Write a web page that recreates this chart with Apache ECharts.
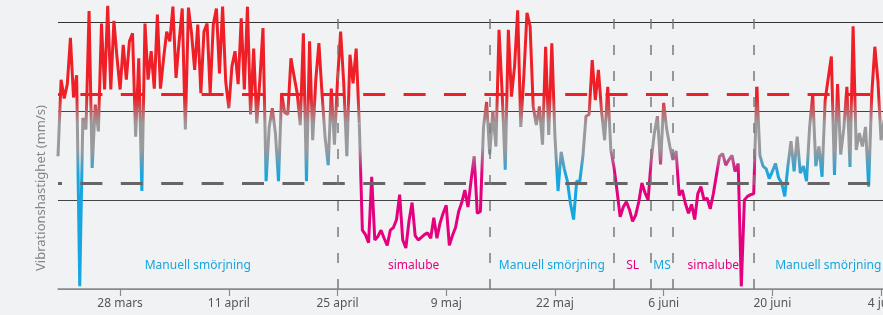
<!DOCTYPE html>
<html>
<head>
<meta charset="utf-8">
<title>Vibrationshastighet</title>
<script src="https://cdn.jsdelivr.net/npm/echarts@6/dist/echarts.min.js"></script>
<style>
html, body { margin: 0; padding: 0; background: #f1f2f4; }
#main { width: 883px; height: 315px; }
</style>
</head>
<body>
<div id="main"></div>
<script>
// x axis: one sample every 0.4 day starting 20 mars, date labels every 14 days
var tickLabels = ['28 mars', '11 april', '25 april', '9 maj', '22 maj', '6 juni', '20 juni', '4 juli'];
var firstTick = 20, tickStep = 35, axisSamples = 273;

// vibration readings (mm/s, relative scale)
var vib = [
  1.49, 2.35, 2.14, 2.3, 2.82, 2.15, 2.4, 0.03, 1.92, 1.79,
  3.12, 1.36, 2.07, 1.77, 2.98, 2.24, 3.18, 2.24, 3.01, 2.6,
  2.24, 2.74, 2.35, 2.78, 2.87, 1.71, 2.59, 1.10, 2.98, 2.35,
  2.67, 2.25, 3.08, 2.25, 2.59, 2.89, 2.78, 3.17, 2.37, 2.78,
  3.15, 1.79, 3.16, 2.87, 2.46, 2.97, 2.2, 2.89, 2.98, 2.2,
  2.97, 3.15, 2.42, 3.17, 2.33, 2.03, 2.5, 2.67, 2.3, 3.04,
  2.24, 3.17, 1.96, 2.7, 1.86, 2.35, 2.93, 1.21, 1.82, 2.03,
  1.75, 1.21, 2.2, 1.98, 1.96, 2.59, 2.39, 2.2, 1.84, 2.87,
  1.21, 2.78, 1.67, 2.35, 2.76, 2.2, 1.7, 1.39, 2.25, 1.62,
  2.35, 2.89, 2.31, 1.49, 2.63, 2.31, 2.7, 1.86, 0.66, 0.61,
  0.52, 1.26, 0.55, 0.59, 0.66, 0.57, 0.49, 0.66, 0.69, 0.78,
  1.06, 0.55, 0.46, 0.76, 0.97, 0.6, 0.55, 0.58, 0.61, 0.63,
  0.57, 0.8, 0.57, 0.74, 0.85, 0.94, 0.49, 0.6, 0.69, 0.87,
  0.97, 1.11, 0.92, 1.22, 1.49, 0.85, 0.87, 1.82, 2.1, 1.51,
  2.0, 1.6, 2.91, 2.2, 1.34, 2.91, 2.16, 2.5, 3.13, 1.82,
  2.4, 3.1, 2.95, 2.05, 1.84, 2.05, 1.62, 2.72, 1.73, 2.76,
  1.71, 1.1, 1.54, 1.35, 1.21, 0.96, 0.78, 1.21, 1.21, 1.49,
  1.94, 1.96, 2.57, 2.12, 2.46, 2.0, 1.67, 2.27, 1.56, 1.37,
  1.10, 0.81, 0.92, 0.98, 0.89, 0.76, 0.83, 0.98, 1.19, 1.08,
  1.0, 1.45, 1.75, 1.94, 1.4, 2.09, 1.79, 1.6, 1.45, 1.55,
  1.05, 1.11, 0.96, 0.85, 0.95, 0.78, 1.07, 1.15, 1.0, 1.02,
  0.9, 1.07, 1.28, 1.49, 1.52, 1.39, 1.45, 1.5, 1.32, 1.41,
  0.03, 1.0, 1.04, 1.06, 1.07, 2.27, 1.5, 1.38, 1.35, 1.24,
  1.32, 1.41, 1.25, 1.19, 1.04, 1.38, 1.66, 1.32, 1.71, 1.3,
  1.38, 1.21, 1.82, 2.18, 1.38, 1.6, 1.26, 2.12, 2.37, 2.61,
  1.28, 2.3, 1.51, 1.8, 2.27, 1.37, 2.95, 1.56, 1.75, 1.6,
  1.82, 1.15, 2.18, 2.72, 2.33, 1.67, 1.9
];

// sample ranges drawn in the simalube colour (SL / MS / simalube)
var lubeSpans = [[97, 137], [178, 225]];

// lubrication periods: boundaries (sample index) and names
var periodEdges = [0, 90, 139, 179, 191, 198, 224, 272];
var periodNames = ['Manuell smörjning', 'simalube', 'Manuell smörjning', 'SL', 'MS', 'simalube', 'Manuell smörjning'];
var periodLube = [false, true, false, true, false, true, false];

// alarm levels
var alarmLevel = 2.19, warnLevel = 1.19;

var RED = '#ee1f27', GRAY = '#9a9a9c', BLUE = '#16a6e0', PINK = '#e5007d';

var cats = [];
for (var i = 0; i < axisSamples; i++) cats.push(String(i));

function inside(i) {
  for (var k = 0; k < lubeSpans.length; k++) {
    if (i > lubeSpans[k][0] && i < lubeSpans[k][1]) return true;
  }
  return false;
}
function inSpan(i) {
  for (var k = 0; k < lubeSpans.length; k++) {
    if (i >= lubeSpans[k][0] && i <= lubeSpans[k][1]) return true;
  }
  return false;
}
var manualData = vib.map(function (v, i) { return inside(i) ? null : v; });
var lubeData = vib.map(function (v, i) { return inSpan(i) ? v : null; });

function isTick(idx) {
  return idx >= firstTick && (idx - firstTick) % tickStep === 0;
}

var dash = [22, 18.4];
var markLines = [
  { yAxis: alarmLevel, lineStyle: { color: RED, width: 3, type: dash, dashOffset: 18 } },
  { yAxis: warnLevel, lineStyle: { color: '#666', width: 3, type: dash, dashOffset: 18 } }
];
for (var e = 1; e < periodEdges.length - 1; e++) {
  markLines.push({ xAxis: periodEdges[e], lineStyle: { color: '#7a7a7a', width: 1.5, type: [10, 16] } });
}

var areas = [];
for (var p = 0; p < periodNames.length; p++) {
  areas.push([
    { xAxis: periodEdges[p], name: periodNames[p], label: { color: periodLube[p] ? PINK : BLUE } },
    { xAxis: periodEdges[p + 1] }
  ]);
}

var myChart = echarts.init(document.getElementById('main'));
var option = {
  backgroundColor: '#f1f2f4',
  animation: false,
  grid: {
    left: 58,
    top: 4,
    width: 844.8,
    height: 285,
    outerBoundsMode: 'none'
  },
  xAxis: {
    type: 'category',
    data: cats,
    boundaryGap: false,
    axisLine: { lineStyle: { color: '#8a8a8a', width: 1.5 } },
    axisTick: {
      interval: function (idx) { return isTick(idx); },
      length: 7,
      lineStyle: { color: '#8a8a8a', width: 1.2 }
    },
    axisLabel: {
      interval: function (idx) { return isTick(idx); },
      formatter: function (v, idx) { return tickLabels[(idx - firstTick) / tickStep] || ''; },
      color: '#555',
      fontSize: 12,
      fontFamily: 'Noto Sans',
      margin: 9
    },
    splitLine: { show: false }
  },
  yAxis: {
    type: 'value',
    min: 0,
    max: 3.2,
    interval: 1,
    axisLine: { show: false },
    axisTick: { show: false },
    axisLabel: { show: false },
    splitLine: {
      show: true,
      lineStyle: { color: ['#8a8a8a', '#444', '#444', '#333', 'rgba(0,0,0,0)'], width: 1 }
    }
  },
  visualMap: [
    {
      type: 'continuous', show: false, seriesIndex: 0, dimension: 1,
      min: 1.28, max: 2.15,
      inRange: { color: [BLUE, GRAY, GRAY, RED] }
    },
    {
      type: 'continuous', show: false, seriesIndex: 1, dimension: 1,
      min: 1.3, max: 2.15,
      inRange: { color: [PINK, GRAY, GRAY, RED] }
    }
  ],
  graphic: [
    {
      type: 'text',
      x: 41,
      y: 188,
      rotation: Math.PI / 2,
      style: {
        text: 'Vibrationshastighet (mm/s)',
        fill: '#858585',
        font: '13px "Noto Sans"',
        textAlign: 'center',
        textVerticalAlign: 'middle'
      }
    }
  ],
  series: [
    {
      name: 'Manuell',
      type: 'line',
      data: manualData,
      symbol: 'none',
      connectNulls: false,
      lineStyle: { width: 3 },
      z: 3,
      markLine: {
        silent: true,
        symbol: ['none', 'none'],
        label: { show: false },
        data: markLines
      },
      markArea: {
        silent: true,
        itemStyle: { color: 'rgba(0,0,0,0)' },
        label: {
          show: true,
          position: 'insideBottom',
          distance: 17,
          fontSize: 12,
          fontFamily: 'Noto Sans'
        },
        data: areas
      }
    },
    {
      name: 'simalube',
      type: 'line',
      data: lubeData,
      symbol: 'none',
      connectNulls: false,
      lineStyle: { width: 3 },
      z: 3
    }
  ]
};
myChart.setOption(option);
</script>
</body>
</html>
